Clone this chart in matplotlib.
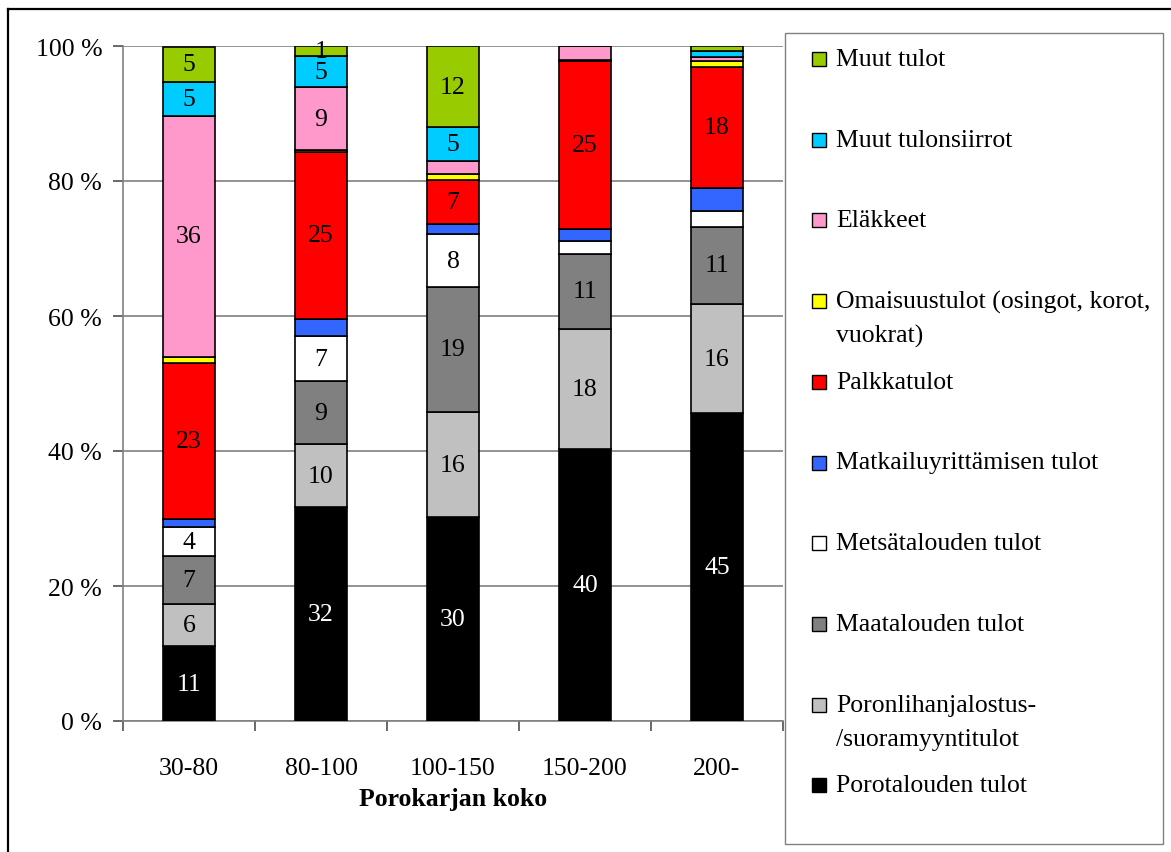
import matplotlib
matplotlib.use("Agg")
import matplotlib.pyplot as plt
from matplotlib.patches import Rectangle
from matplotlib.lines import Line2D
import numpy as np

# ---------------- data ----------------
categories = ['30-80', '80-100', '100-150', '150-200', '200-']

porotalous   = [11.1, 31.7, 30.2, 40.3, 45.6]
poronliha    = [6.2, 9.3, 15.6, 17.8, 16.2]
maatalous    = [7.1, 9.4, 18.5, 11.1, 11.4]
metsatalous  = [4.3, 6.6, 7.8, 1.9, 2.4]
matkailu     = [1.3, 2.6, 1.5, 1.8, 3.4]
palkka       = [23.0, 24.7, 6.5, 24.9, 17.9]
omaisuus     = [1.0, 0.3, 0.9, 0.2, 0.9]
elakkeet     = [35.7, 9.3, 2.0, 2.0, 0.6]
tulonsiirrot = [5.0, 4.6, 5.0, 0.0, 0.9]
muut         = [5.2, 1.5, 12.0, 0.0, 0.7]

porotalous_lbl   = ['11', '32', '30', '40', '45']
poronliha_lbl    = ['6', '10', '16', '18', '16']
maatalous_lbl    = ['7', '9', '19', '11', '11']
metsatalous_lbl  = ['4', '7', '8', '', '']
matkailu_lbl     = ['', '', '', '', '']
palkka_lbl       = ['23', '25', '7', '25', '18']
omaisuus_lbl     = ['', '', '', '', '']
elakkeet_lbl     = ['36', '9', '', '', '']
tulonsiirrot_lbl = ['5', '5', '5', '', '']
muut_lbl         = ['5', '1', '12', '', '']

series_names = ['Porotalouden tulot',
                'Poronlihanjalostus-\n/suoramyyntitulot',
                'Maatalouden tulot',
                'Metsätalouden tulot',
                'Matkailuyrittämisen tulot',
                'Palkkatulot',
                'Omaisuustulot (osingot, korot,\nvuokrat)',
                'Eläkkeet',
                'Muut tulonsiirrot',
                'Muut tulot']
series_vals = [porotalous, poronliha, maatalous, metsatalous, matkailu,
               palkka, omaisuus, elakkeet, tulonsiirrot, muut]
series_lbls = [porotalous_lbl, poronliha_lbl, maatalous_lbl, metsatalous_lbl,
               matkailu_lbl, palkka_lbl, omaisuus_lbl, elakkeet_lbl,
               tulonsiirrot_lbl, muut_lbl]
colors = ['#000000', '#C0C0C0', '#808080', '#FFFFFF', '#3366FF',
          '#FF0000', '#FFFF00', '#FF99CC', '#00CCFF', '#99CC00']
text_colors = ['white'] + ['black'] * 9

# ---------------- figure ----------------
W, H = 1171, 853
plt.rcParams['font.family'] = ['Liberation Serif', 'DejaVu Serif']
FS = 18.5
fig = plt.figure(figsize=(W / 100, H / 100), dpi=100)

def fx(px):
    return px / W

def fy(py):
    return 1 - py / H

ax_l, ax_r, ax_t, ax_b = 123, 783, 47, 722
ax = fig.add_axes([fx(ax_l), fy(ax_b), (ax_r - ax_l) / W, (ax_b - ax_t) / H])

x = np.arange(len(categories))
bottom = np.zeros(len(categories))
for vals, lbls, c, tc in zip(series_vals, series_lbls, colors, text_colors):
    vals = np.array(vals)
    ax.bar(x, vals, width=0.4, bottom=bottom, color=c, edgecolor='black',
           linewidth=1.2, zorder=3)
    for xi, v, b, l in zip(x, vals, bottom, lbls):
        if l:
            ax.text(xi, b + v / 2, l, ha='center', va='center', fontsize=FS,
                    color=tc, zorder=4)
    bottom += vals

ax.set_xlim(-0.5, len(categories) - 0.5)
ax.set_ylim(0, 100)
ax.set_yticks(np.arange(0, 101, 20))
ax.set_yticklabels([f'{v} %' for v in range(0, 101, 20)], fontsize=FS)
ax.set_xticks(x)
ax.set_xticklabels(categories, fontsize=FS)
ax.set_xticks(np.arange(-0.5, len(categories), 1.0), minor=True)
ax.tick_params(axis='x', which='major', length=0, pad=26)
ax.tick_params(axis='x', which='minor', length=7, width=1.1, color='#404040',
               direction='out')
ax.tick_params(axis='y', length=7, width=1.1, color='#404040', pad=8,
               direction='out')
ax.yaxis.grid(True, color='#808080', linewidth=1.2, zorder=0)
ax.set_axisbelow(True)
for s in ['top', 'right']:
    ax.spines[s].set_visible(False)
for s in ['left', 'bottom']:
    ax.spines[s].set_color('#808080')
    ax.spines[s].set_linewidth(1.2)
ax.set_xlabel('Porokarjan koko', fontsize=FS, fontweight='bold', labelpad=6)

# ---------------- outer border ----------------
fig.add_artist(Line2D([fx(8), fx(8)], [fy(10), fy(H + 5)], color='black',
                      linewidth=1.6, transform=fig.transFigure))
fig.add_artist(Line2D([fx(8), fx(W + 5)], [fy(10), fy(10)], color='black',
                      linewidth=1.6, transform=fig.transFigure))

# ---------------- legend ----------------
lg_l, lg_r, lg_t, lg_b = 785, 1163, 34, 845
fig.add_artist(Rectangle((fx(lg_l), fy(lg_b)), (lg_r - lg_l) / W,
                         (lg_b - lg_t) / H, transform=fig.transFigure,
                         facecolor='white', edgecolor='#808080', linewidth=1.0))
y0, dy, line_h = 60, 80.7, 34
for i, idx in enumerate(range(len(series_names) - 1, -1, -1)):
    yc = y0 + i * dy
    sq = 14
    fig.add_artist(Rectangle((fx(812), fy(yc + sq / 2)), sq / W, sq / H,
                             transform=fig.transFigure, facecolor=colors[idx],
                             edgecolor='black', linewidth=1.0))
    for j, line in enumerate(series_names[idx].split('\n')):
        fig.text(fx(836), fy(yc + j * line_h), line, ha='left', va='center',
                 fontsize=FS)

fig.savefig('out.png', dpi=100, facecolor='white')
